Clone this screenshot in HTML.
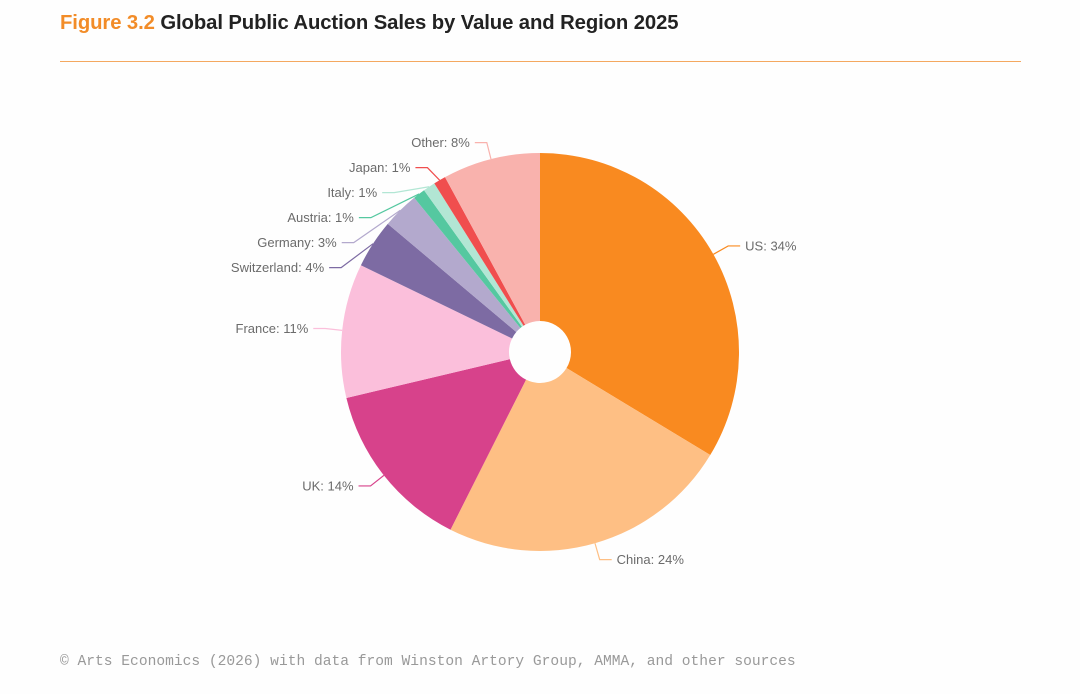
<!DOCTYPE html>
<html><head><meta charset="utf-8">
<style>
body{margin:0;background:#fefefe;width:1080px;height:694px;overflow:hidden;font-family:"Liberation Sans",sans-serif;}
#title{position:absolute;left:60px;top:12px;font-size:20.3px;font-weight:bold;color:#222;letter-spacing:-0.1px;}
#title span{color:#f28c28;}
#rule{position:absolute;left:60px;top:61px;width:961px;height:1px;background:#f4a860;}
#foot{position:absolute;left:60px;top:654px;font-family:"Liberation Mono",monospace;font-size:14.6px;color:#999;}
svg{position:absolute;left:0;top:0;}
</style></head><body>
<div id="title"><span>Figure 3.2</span> Global Public Auction Sales by Value and Region 2025</div>
<div id="rule"></div>
<svg id="chart" width="1080" height="694"></svg>
<div id="foot">© Arts Economics (2026) with data from Winston Artory Group, AMMA, and other sources</div>
<script>
const categories=["US","China","UK","France","Switzerland","Germany","Austria","Italy","Japan","Other"];
const values=[34,24,14,11,4,3,1,1,1,8];
const colors=["#f98a20","#febf84","#d7428b","#fbbfdb","#7d6ba3","#b3a9cd","#55c8a0","#b2e6d4","#f04e4e","#f9b2ad"];
const NS="http://www.w3.org/2000/svg";
const svg=document.getElementById('chart');
const cx=540,cy=352,R=199,r0=31;
const total=values.reduce((a,b)=>a+b,0);
function pt(a,rad){return [cx+rad*Math.sin(a),cy-rad*Math.cos(a)];}
let acc=0;const labels=[];
values.forEach((v,i)=>{
  const a0=acc/total*2*Math.PI;acc+=v;const a1=acc/total*2*Math.PI;
  const [x0,y0]=pt(a0,R),[x1,y1]=pt(a1,R),[x2,y2]=pt(a1,r0),[x3,y3]=pt(a0,r0);
  const lg=(a1-a0)>Math.PI?1:0;
  const p=document.createElementNS(NS,'path');
  p.setAttribute('d',`M${x0},${y0}A${R},${R} 0 ${lg} 1 ${x1},${y1}L${x2},${y2}A${r0},${r0} 0 ${lg} 0 ${x3},${y3}Z`);
  p.setAttribute('fill',colors[i]);
  
  
  svg.appendChild(p);
  const m=(a0+a1)/2;
  const [ex,ey]=pt(m,R+17);
  labels.push({i,m,ex,ey,right:Math.sin(m)>=0});
});
const Rr=R+17;
const left=labels.filter(l=>!l.right).sort((a,b)=>a.ey-b.ey);
for(let k=1;k<left.length;k++){ if(left[k].ey-left[k-1].ey<25) left[k].ey=left[k-1].ey+25; }
left.forEach(l=>{const dy=l.ey-cy;l.ex=cx-Math.sqrt(Math.max(0,Rr*Rr-dy*dy));});
labels.forEach(l=>{
  const [sx,sy]=pt(l.m,R);
  const hx=l.right?l.ex+12:l.ex-12;
  const pl=document.createElementNS(NS,'polyline');
  pl.setAttribute('points',`${sx},${sy} ${l.ex},${l.ey} ${hx},${l.ey}`);
  pl.setAttribute('fill','none');pl.setAttribute('stroke',colors[l.i]);pl.setAttribute('stroke-width','1.2');
  
  
  svg.appendChild(pl);
  const t=document.createElementNS(NS,'text');
  t.setAttribute('x',l.right?hx+5:hx-5);t.setAttribute('y',l.ey+4.5);
  t.setAttribute('text-anchor',l.right?'start':'end');
  t.setAttribute('font-size','13');t.setAttribute('fill','#6b6b6b');
  t.setAttribute('font-family','"Liberation Sans",sans-serif');
  t.textContent=categories[l.i]+': '+values[l.i]+'%';
  
  
  svg.appendChild(t);
});
</script>
</body></html>
